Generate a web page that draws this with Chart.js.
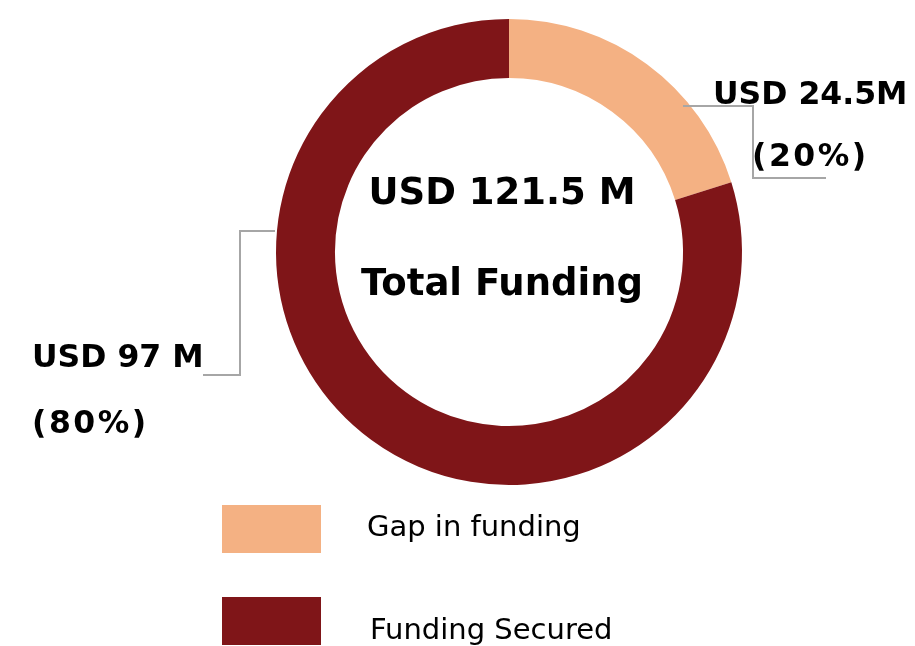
<!DOCTYPE html>
<html>
<head>
<meta charset="utf-8">
<script src="https://cdn.jsdelivr.net/npm/chart.js@4/dist/chart.umd.min.js"></script>
<style>
html,body{margin:0;padding:0;background:#fff;}
#wrap{width:915px;height:646px;position:relative;}
</style>
</head>
<body>
<div id="wrap"><canvas id="c" width="915" height="646"></canvas></div>
<script>
const categories = ['Gap in funding', 'Funding Secured'];
const values = [24.5, 97];
const valueLabels = ['USD 24.5M', 'USD 97 M'];
const percentLabels = ['(20%)', '(80%)'];
const centerLines = ['USD 121.5 M', 'Total Funding'];
const colors = ['#F4B183', '#7F1518'];

const FONT = '"DejaVu Sans", Verdana, sans-serif';

const overlay = {
  id: 'overlay',
  afterDraw(chart) {
    const ctx = chart.ctx;
    const arc = chart.getDatasetMeta(0).data[0];
    const cx = arc.x, cy = arc.y;
    ctx.save();
    // center text
    ctx.fillStyle = '#000';
    ctx.textAlign = 'center';
    ctx.textBaseline = 'middle';
    ctx.font = 'bold 37px ' + FONT;
    ctx.fillText(centerLines[0], cx - 7, cy - 58);
    ctx.fillText(centerLines[1], cx - 7, cy + 33);

    // leader lines
    ctx.strokeStyle = '#A6A6A6';
    ctx.lineWidth = 2;
    ctx.beginPath();
    ctx.moveTo(cx + 174, cy - 146);
    ctx.lineTo(cx + 244, cy - 146);
    ctx.lineTo(cx + 244, cy - 74);
    ctx.lineTo(cx + 317, cy - 74);
    ctx.stroke();
    ctx.beginPath();
    ctx.moveTo(cx - 234, cy - 21);
    ctx.lineTo(cx - 269, cy - 21);
    ctx.lineTo(cx - 269, cy + 123);
    ctx.lineTo(cx - 306, cy + 123);
    ctx.stroke();

    // data labels
    ctx.textAlign = 'left';
    ctx.font = 'bold 31.5px ' + FONT;
    ctx.fillText(valueLabels[0], 713, 96);
    ctx.fillText(valueLabels[1], 32, 359);
    ctx.letterSpacing = '2.5px';
    ctx.fillText(percentLabels[0], 752, 158);
    ctx.fillText(percentLabels[1], 32, 425);
    ctx.letterSpacing = '0px';

    // legend
    const ds = chart.data.datasets[0];
    const boxes = [{y: 505, tx: 367, ty: 528}, {y: 597, tx: 370, ty: 631}];
    ctx.font = '29px ' + FONT;
    chart.data.labels.forEach((lab, i) => {
      ctx.fillStyle = ds.backgroundColor[i];
      ctx.fillRect(222, boxes[i].y, 99, 48);
      ctx.fillStyle = '#000';
      ctx.fillText(lab, boxes[i].tx, boxes[i].ty);
    });
    ctx.restore();
  }
};

new Chart(document.getElementById('c'), {
  type: 'doughnut',
  data: {
    labels: categories,
    datasets: [{
      data: values,
      backgroundColor: colors,
      borderWidth: 0
    }]
  },
  options: {
    responsive: false,
    animation: false,
    cutout: '74.7%',
    layout: { padding: { top: 19, bottom: 161, left: 276, right: 173 } },
    plugins: { legend: { display: false }, tooltip: { enabled: false } }
  },
  plugins: [overlay]
});
</script>
</body>
</html>
